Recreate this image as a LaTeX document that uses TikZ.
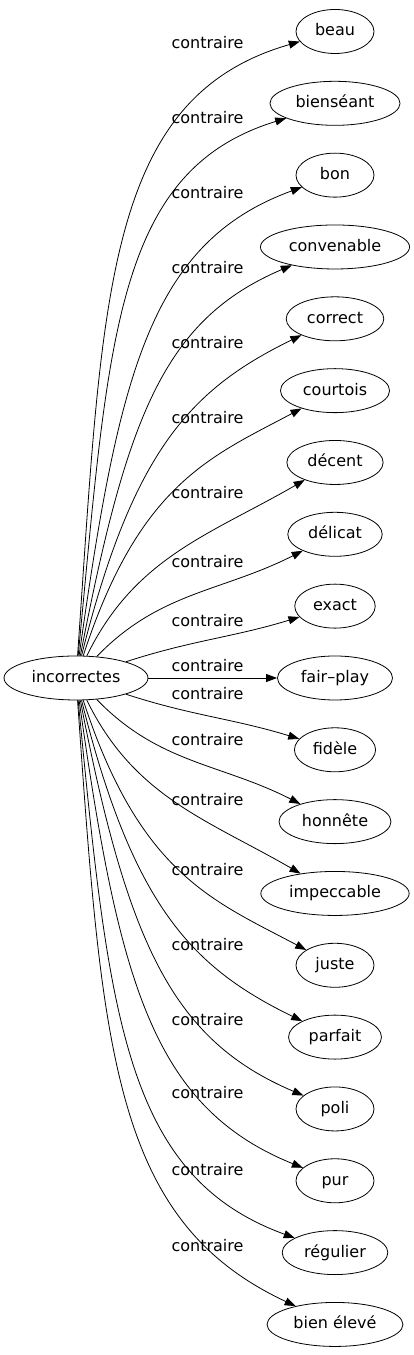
\documentclass[tikz,border=0pt]{standalone}
\usepackage{fontspec}
\setmainfont{DejaVu Sans}
\usetikzlibrary{arrows.meta,shapes.geometric}
\begin{document}
\begin{tikzpicture}[x=1pt,y=1pt,
  txt/.style={font=\fontsize{16}{19}\selectfont},
  word/.style={txt, draw, ellipse, line width=0.8pt, minimum width=78pt, minimum height=44pt, inner xsep=6.5pt, inner ysep=0pt, text height=12pt, text depth=3pt},
  lbl/.style={txt, anchor=base, inner sep=0pt},
  conn/.style={line width=0.8pt, -{Triangle[length=11pt,width=8pt]}},
  connfar/.style={conn, out looseness=1.4, in looseness=0.8}]
\useasboundingbox (0,0) rectangle (414,1355);
\node[word, minimum width=142pt] (inc) at (76,677) {incorrectes};
\node[word] (t0) at (335,1323.5) {beau};
\node[word] (t1) at (335,1251.67) {bienséant};
\node[word] (t2) at (335,1179.84) {bon};
\node[word] (t3) at (335,1108.01) {convenable};
\node[word] (t4) at (335,1036.18) {correct};
\node[word] (t5) at (335,964.35) {courtois};
\node[word] (t6) at (335,892.52) {décent};
\node[word] (t7) at (335,820.69) {délicat};
\node[word] (t8) at (335,748.86) {exact};
\node[word] (t9) at (335,677) {fair–play};
\node[word] (t10) at (335,605.2) {fidèle};
\node[word] (t11) at (335,533.37) {honnête};
\node[word] (t12) at (335,461.54) {impeccable};
\node[word] (t13) at (335,389.71) {juste};
\node[word] (t14) at (335,317.88) {parfait};
\node[word] (t15) at (335,246.05) {poli};
\node[word] (t16) at (335,174.22) {pur};
\node[word] (t17) at (335,102.39) {régulier};
\node[word] (t18) at (335,30.56) {bien élevé};
\draw[connfar] (inc) to[out=86,in=196] (t0);
\draw[connfar] (inc) to[out=84.5,in=197] (t1);
\draw[connfar] (inc) to[out=82,in=200] (t2);
\draw[connfar] (inc) to[out=79,in=203] (t3);
\draw[connfar] (inc) to[out=76,in=206] (t4);
\draw[connfar] (inc) to[out=72,in=208] (t5);
\draw[conn] (inc) to[out=64,in=210] (t6);
\draw[conn] (inc) to[out=46,in=207] (t7);
\draw[conn] (inc) to[out=18,in=197] (t8);
\draw[conn] (inc) -- (t9);
\draw[conn] (inc) to[out=-18,in=163] (t10);
\draw[conn] (inc) to[out=-46,in=153] (t11);
\draw[conn] (inc) to[out=-64,in=150] (t12);
\draw[connfar] (inc) to[out=-72,in=152] (t13);
\draw[connfar] (inc) to[out=-76,in=154] (t14);
\draw[connfar] (inc) to[out=-79,in=157] (t15);
\draw[connfar] (inc) to[out=-82,in=158] (t16);
\draw[connfar] (inc) to[out=-84.5,in=160] (t17);
\draw[connfar] (inc) to[out=-86,in=155] (t18);
\node[lbl] (l0) at (207.5,1306) {contraire};
\node[lbl] (l1) at (207.5,1231) {contraire};
\node[lbl] (l2) at (207.5,1156) {contraire};
\node[lbl] (l3) at (207.5,1081) {contraire};
\node[lbl] (l4) at (207.5,1006) {contraire};
\node[lbl] (l5) at (207.5,931) {contraire};
\node[lbl] (l6) at (207.5,856) {contraire};
\node[lbl] (l7) at (207.5,787) {contraire};
\node[lbl] (l8) at (207.5,728) {contraire};
\node[lbl] (l9) at (207.5,683) {contraire};
\node[lbl] (l10) at (207.5,655) {contraire};
\node[lbl] (l11) at (207.5,609) {contraire};
\node[lbl] (l12) at (207.5,549) {contraire};
\node[lbl] (l13) at (207.5,479) {contraire};
\node[lbl] (l14) at (207.5,404) {contraire};
\node[lbl] (l15) at (207.5,329) {contraire};
\node[lbl] (l16) at (207.5,256) {contraire};
\node[lbl] (l17) at (207.5,179) {contraire};
\node[lbl] (l18) at (207.5,103) {contraire};
\end{tikzpicture}
\end{document}
